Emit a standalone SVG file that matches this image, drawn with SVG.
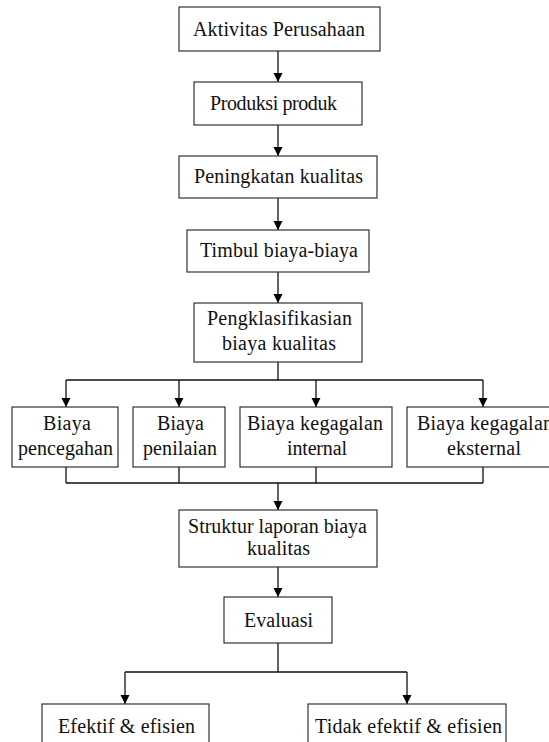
<svg xmlns="http://www.w3.org/2000/svg" width="549" height="742" viewBox="0 0 549 742">
<defs>
<marker id="ah" markerWidth="10" markerHeight="10" refX="9" refY="5" orient="auto" markerUnits="userSpaceOnUse">
<path d="M0,0.5 L9,5 L0,9.5 Z" fill="#000"/>
</marker>
<style>
.box{fill:#fff;stroke:#333;stroke-width:1.2}
.t{font-family:"Liberation Serif","Times New Roman",serif;font-size:20px;fill:#111}
.c{fill:none;stroke:#111;stroke-width:1.3}
</style>
</defs>
<rect width="549" height="742" fill="#fff"/>
<g id="connectors">
<line class="c" x1="278" y1="51" x2="278" y2="82" marker-end="url(#ah)"/>
<line class="c" x1="278" y1="125" x2="278" y2="156" marker-end="url(#ah)"/>
<line class="c" x1="278" y1="198" x2="278" y2="230" marker-end="url(#ah)"/>
<line class="c" x1="278" y1="272" x2="278" y2="303" marker-end="url(#ah)"/>
<path class="c" d="M278,362 V380"/>
<path class="c" d="M66,380 H483"/>
<line class="c" x1="66" y1="380" x2="66" y2="407" marker-end="url(#ah)"/>
<line class="c" x1="179" y1="380" x2="179" y2="407" marker-end="url(#ah)"/>
<line class="c" x1="316" y1="380" x2="316" y2="407" marker-end="url(#ah)"/>
<line class="c" x1="483" y1="380" x2="483" y2="407" marker-end="url(#ah)"/>
<path class="c" d="M66,467 V483 M179,467 V483 M316,467 V483 M483,467 V483 M66,483 H483"/>
<line class="c" x1="278" y1="483" x2="278" y2="510" marker-end="url(#ah)"/>
<line class="c" x1="278" y1="567" x2="278" y2="597" marker-end="url(#ah)"/>
<path class="c" d="M278,643 V672 M125,672 H407"/>
<line class="c" x1="125" y1="672" x2="125" y2="704" marker-end="url(#ah)"/>
<line class="c" x1="407" y1="672" x2="407" y2="704" marker-end="url(#ah)"/>
</g>
<g id="n1"><rect class="box" x="179" y="7" width="201" height="44"/><text class="t" x="193" y="36" textLength="172" lengthAdjust="spacing">Aktivitas Perusahaan</text></g>
<g id="n2"><rect class="box" x="194" y="82" width="168" height="43"/><text class="t" x="210" y="110" textLength="127" lengthAdjust="spacing">Produksi produk</text></g>
<g id="n3"><rect class="box" x="179" y="156" width="198" height="42"/><text class="t" x="194" y="183" textLength="169" lengthAdjust="spacing">Peningkatan kualitas</text></g>
<g id="n4"><rect class="box" x="187" y="230" width="182" height="42"/><text class="t" x="200" y="257" textLength="158" lengthAdjust="spacing">Timbul biaya-biaya</text></g>
<g id="n5"><rect class="box" x="194" y="303" width="168" height="59"/><text class="t" x="207" y="325" textLength="145" lengthAdjust="spacing">Pengklasifikasian</text><text class="t" x="222" y="350" textLength="114" lengthAdjust="spacing">biaya kualitas</text></g>
<g id="n6"><rect class="box" x="12" y="407" width="106" height="60"/><text class="t" x="43" y="430" textLength="48" lengthAdjust="spacing">Biaya</text><text class="t" x="18" y="455" textLength="95" lengthAdjust="spacing">pencegahan</text></g>
<g id="n7"><rect class="box" x="133" y="407" width="92" height="60"/><text class="t" x="157" y="430" textLength="47" lengthAdjust="spacing">Biaya</text><text class="t" x="143" y="455" textLength="74" lengthAdjust="spacing">penilaian</text></g>
<g id="n8"><rect class="box" x="240" y="407" width="152" height="60"/><text class="t" x="247" y="430" textLength="136" lengthAdjust="spacing">Biaya kegagalan</text><text class="t" x="287" y="455" textLength="60" lengthAdjust="spacing">internal</text></g>
<g id="n9"><rect class="box" x="407" y="407" width="152" height="60"/><text class="t" x="417" y="430" textLength="136" lengthAdjust="spacing">Biaya kegagalan</text><text class="t" x="447" y="455" textLength="74" lengthAdjust="spacing">eksternal</text></g>
<g id="n10"><rect class="box" x="179" y="510" width="198" height="57"/><text class="t" x="188" y="533" textLength="179" lengthAdjust="spacing">Struktur laporan biaya</text><text class="t" x="247" y="555" textLength="63" lengthAdjust="spacing">kualitas</text></g>
<g id="n11"><rect class="box" x="224" y="597" width="108" height="46"/><text class="t" x="244" y="627" textLength="69" lengthAdjust="spacing">Evaluasi</text></g>
<g id="n12"><rect class="box" x="42" y="704" width="167" height="50"/><text class="t" x="58" y="733" textLength="137" lengthAdjust="spacing">Efektif &amp; efisien</text></g>
<g id="n13"><rect class="box" x="308" y="704" width="198" height="50"/><text class="t" x="315" y="733" textLength="187" lengthAdjust="spacing">Tidak efektif &amp; efisien</text></g>
</svg>
